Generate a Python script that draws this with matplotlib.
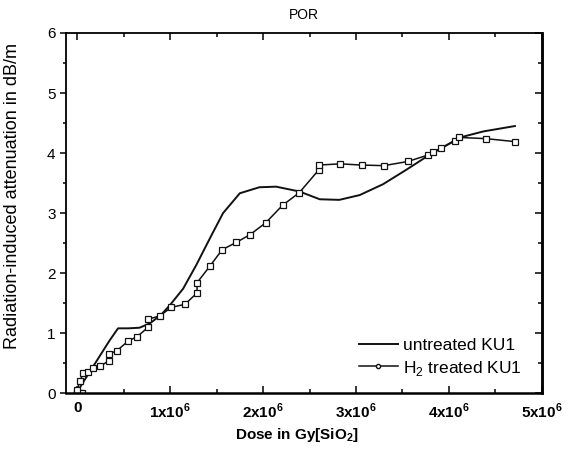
import matplotlib
matplotlib.use("Agg")
import matplotlib.pyplot as plt
from matplotlib.lines import Line2D
from matplotlib.ticker import MultipleLocator, FixedLocator

plt.rcParams['font.family'] = ['Liberation Sans', 'DejaVu Sans']
plt.rcParams['mathtext.fontset'] = 'custom'
plt.rcParams['mathtext.rm'] = 'Liberation Sans'
plt.rcParams['mathtext.bf'] = 'Liberation Sans:bold'

# untreated KU1 (dose in units of 1e6 Gy, attenuation in dB/m)
dose_untreated = [0.0, 0.08, 0.17, 0.26, 0.35, 0.44, 0.55, 0.67, 0.78, 0.9, 1.0, 1.14, 1.28,
                  1.445, 1.57, 1.75, 1.96, 2.14, 2.39, 2.61, 2.82, 3.04, 3.29, 3.54, 3.79,
                  4.12, 4.37, 4.71]
att_untreated = [0.02, 0.22, 0.44, 0.66, 0.88, 1.08, 1.08, 1.09, 1.16, 1.3, 1.47, 1.74, 2.13,
                 2.63, 3.0, 3.33, 3.43, 3.44, 3.36, 3.23, 3.22, 3.3, 3.48, 3.72, 3.97,
                 4.26, 4.36, 4.45]

# H2 treated KU1
dose_treated = [0.0, 0.03, 0.05, 0.0, 0.03, 0.065, 0.12, 0.17, 0.25, 0.34, 0.34, 0.43, 0.55,
                0.645, 0.765, 0.765, 0.89, 1.015, 1.16, 1.29, 1.29, 1.43, 1.56, 1.71,
                1.86, 2.03, 2.21, 2.39, 2.6, 2.6, 2.83, 3.06, 3.3, 3.56, 3.78, 3.83,
                3.92, 4.06, 4.11, 4.4, 4.71]
att_treated = [0.0, 0.0, 0.01, 0.06, 0.2, 0.33, 0.36, 0.42, 0.45, 0.54, 0.65, 0.71, 0.87,
               0.94, 1.1, 1.23, 1.29, 1.43, 1.48, 1.67, 1.84, 2.12, 2.39, 2.51,
               2.64, 2.84, 3.13, 3.34, 3.72, 3.8, 3.82, 3.8, 3.79, 3.86, 3.97, 4.02,
               4.08, 4.2, 4.26, 4.24, 4.19]

xtick_vals = [0, 1, 2, 3, 4, 5]
xtick_labels = ['0', r'1x10$^{\mathbf{6}}$', r'2x10$^{\mathbf{6}}$', r'3x10$^{\mathbf{6}}$',
                r'4x10$^{\mathbf{6}}$', r'5x10$^{\mathbf{6}}$']

fig = plt.figure(figsize=(5.71, 4.62), dpi=100)
ax = fig.add_axes([0.1156, 0.149, 0.8334, 0.7796])

ax.plot(dose_untreated, att_untreated, color='#111111', lw=1.4)
ax.plot(dose_treated, att_treated, color='#111111', lw=1.1, marker='s', ms=4,
        mfc='white', mec='#111111', mew=0.9)

ax.set_xlim(-0.12, 5.0)
ax.set_ylim(0, 6)
ax.xaxis.set_major_locator(FixedLocator(xtick_vals))
ax.set_xticklabels(xtick_labels, fontweight='bold', fontsize=11)
ax.xaxis.set_minor_locator(MultipleLocator(0.5))
ax.yaxis.set_major_locator(MultipleLocator(1))
ax.yaxis.set_minor_locator(MultipleLocator(0.5))
for lab in ax.get_yticklabels():
    lab.set_fontsize(11)

ax.tick_params(axis='x', which='both', direction='in', top=True, width=1.1, pad=6)
ax.tick_params(axis='x', which='major', length=5)
ax.tick_params(axis='x', which='minor', length=3)
ax.tick_params(axis='y', which='both', direction='out', width=1.1)
ax.tick_params(axis='y', which='major', length=4)
ax.tick_params(axis='y', which='minor', length=2)
# mirrored ticks on the right point inward
ax2 = ax.secondary_yaxis('right')
ax2.yaxis.set_major_locator(MultipleLocator(1))
ax2.yaxis.set_minor_locator(MultipleLocator(0.5))
ax2.tick_params(which='both', direction='in', labelright=False, width=1.1)
ax2.tick_params(which='major', length=5)
ax2.tick_params(which='minor', length=3)
ax2.spines['right'].set_linewidth(1.8)

for s in ['left', 'top']:
    ax.spines[s].set_linewidth(1.3)
for s in ['right', 'bottom']:
    ax.spines[s].set_linewidth(1.8)

ax.set_title('POR', fontsize=10, pad=10)
ax.set_xlabel(r'Dose in Gy[SiO$_{\mathbf{2}}$]', fontweight='bold', fontsize=11)
ax.xaxis.set_label_coords(0.485, -0.09)
ax.set_ylabel('Radiation-induced attenuation in dB/m', fontsize=13)
ax.yaxis.set_label_coords(-0.095, 0.547)

handles = [Line2D([], [], color='#111111', lw=1.4),
           Line2D([], [], color='#111111', lw=1.1, marker='o', ms=3, mfc='white', mec='#111111')]
ax.legend(handles, ['untreated KU1', r'H$_2$ treated KU1'], loc='lower right',
          bbox_to_anchor=(0.99, 0.0), frameon=False, fontsize=12.5,
          handlelength=2.2, handletextpad=0.3, labelspacing=0.3)

fig.savefig('out.png', dpi=100)
